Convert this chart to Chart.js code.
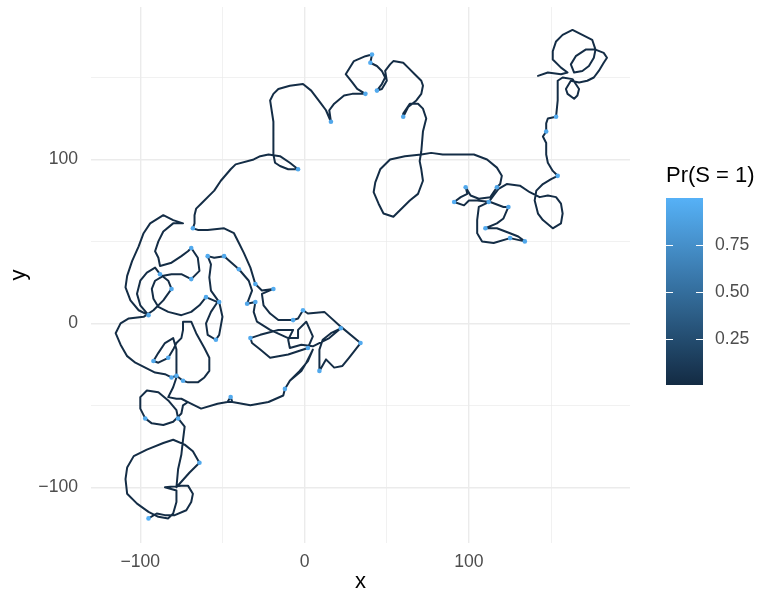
<!DOCTYPE html>
<html>
<head>
<meta charset="utf-8">
<script src="https://cdn.jsdelivr.net/npm/chart.js@4.4.1/dist/chart.umd.min.js"></script>
<style>
  html, body { margin: 0; padding: 0; background: #fff; }
  #wrap { width: 761px; height: 598px; }
</style>
</head>
<body>
<div id="wrap"><canvas id="chart" width="761" height="598"></canvas></div>
<script>
// path, in order: [x, y, Pr(S = 1)]
const topRight = [
  [142,151,.003],[148,153,.02],[156,152,.02],[160,153,.02],[156,156,.02],[151,161,.02],[151,166,.02],[153,172,.02],[157,176,.02],[163,179,.02],
  [169,176,.02],[175,173,.02],[177,167,.02],[176,162,.02],[173,157,.02],[169,154,.02],[164,153,.02],[162,158,.02],[165,163,.02],[171,167,.02],
  [177,167,.02],[182,165,.02],[184,162,.02],[182,159,.02],[179,154,.02],[176,150,.02],[172,148,.02],[167,147,.02],[162,148,.02],[159,143,.02],
  [160,140,.02],[164,137,.02],[166,139,.02],[167,143,.02],[165,146,.02],[163,149,.02],[157,150,.02],[154,148,.02],[154,143,.02],[154,136,.02],
  [153,126,.95],[148,125,.02],[147,122,.02],[147,117,.93],[145,114,.02],[147,110,.02],[147,103,.02],[148,98,.02],[151,93,.02],[154,90,.96],
  [150,88,.02],[145,85,.02],[141,81,.02],[140,75,.02],[142,67,.02],[145,63,.02],[151,58,.02],[156,61,.02],[157,67,.02],[156,73,.02],
  [153,77,.02],[148,78,.02],[143,77,.02],[137,80,.02],[131,84,.02],[123,85,.02],[118,82,.02],[115,78,.02],[112,74,.94]
];
const rightLoops = [
  [106,71,.02],[105,63,.02],[105,55,.02],[108,50,.02],[115,49,.02],[125,52,.96],[134,50,.93],[130,53,.02],[125,55,.02],[117,58,.02],
  [110,58,.95],[117,61,.02],[121,64,.02],[124,71,.92],[121,71,.02],[113,74,.02],[105,75,.02],[100,75,.02],[97,72,.02],[91,74,.97],
  [95,77,.02],[99,79,.02],[98,83,.94],[101,78,.02],[106,76,.02],[113,77,.02],[117,83,.91],[119,85,.02],[120,90,.02],[117,95,.02],
  [111,100,.02],[103,103,.02],[95,103,.02],[84,103,.02],[77,104,.02],[71,103,.02],[61,102,.02],[52,100,.02],[46,94,.02],[43,86,.02],
  [42,80,.02],[45,73,.02],[48,67,.02],[54,65,.02],[58,69,.02],[64,75,.02],[69,79,.02],[72,87,.02],[71,94,.02],[70,99,.02],
  [71,105,.02],[72,117,.02],[74,125,.02],[72,131,.02],[69,134,.02],[64,134,.02],[60,128,.02],[60,126,.93],[63,132,.02],[68,136,.02],
  [71,140,.02],[72,145,.02],[71,148,.02],[67,152,.02],[63,156,.02],[60,159,.02],[54,160,.02],[52,158,.02],[49,154,.02],[50,148,.02],
  [47,143,.02],[44,142,.95],[47,146,.02],[49,150,.02],[47,154,.02],[44,157,.02],[40,159,.97],[41,164,.96],[37,163,.02],[30,160,.02],
  [25,152,.02],[29,147,.02],[32,143,.02],[37,140,.94],[29,140,.02],[24,139,.02],[18,134,.02],[15,130,.02],[16,123,.92],[13,130,.02],
  [10,134,.02],[4,142,.02],[-1,146,.02],[-9,145,.02],[-16,143,.02],[-19,140,.02],[-21,136,.02],[-19,123,.02],[-19,111,.02],[-19,103,.02],
  [-18,98,.02],[-15,96,.02],[-10,94,.02],[-4,94,.93],[-9,98,.02],[-15,102,.02],[-22,103,.02],[-27,102,.02],[-31,100,.02],[-42,97,.02],
  [-45,94,.02],[-51,87,.02],[-55,81,.02],[-63,73,.02],[-66,70,.02],[-67,66,.02]
];
const leftTop = [
  [-67,61,.02],[-68,58,.95],[-65,57,.02],[-59,57,.02],[-49,58,.02],[-43,55,.02],[-40,49,.02],[-37,43,.02],[-33,34,.02],[-30,24,.94],
  [-26,20,.02],[-19,21,.96],[-26,18,.02],[-25,11,.02],[-21,6,.02],[-16,2,.02],[-7,2,.93]
];
const midCluster = [
  [-4,3,.02],[-1,8,.97],[2,6,.02],[12,7,.02],[22,-2,.02],[34,-12,.95],[27,-21,.02],[23,-26,.02],[18,-27,.02],[13,-22,.02],
  [9,-29,.94],[9,-16,.02],[11,-10,.02],[16,-6,.02],[22,-3,.96],[15,-9,.02],[5,-14,.02],[-2,-13,.02],[-9,-15,.02],[-10,-10,.02],
  [-7,-4,.02],[-16,-4,.02],[-27,-7,.02],[-33,-9,.95],[-32,-12,.02],[-27,-16,.02],[-21,-21,.02],[-10,-19,.02],[2,-15,.93],[5,-8,.02],
  [1,1,.02],[-4,-4,.02],[-4,-9,.02]
];
const leftCluster = [
  [-10,-9,.02],[-21,-4,.02],[-29,1,.02],[-31,7,.02],[-30,13,.94],[-35,12,.92],[-32,20,.02],[-34,26,.02],[-40,33,.95],[-49,41,.93],
  [-55,40,.02],[-59,41,.96],[-57,36,.02],[-58,28,.02],[-57,20,.02],[-52,13,.94],
  [-50,4,.02],[-52,-7,.02],[-54,-10,.95],[-59,-7,.02],[-60,0,.02],[-57,7,.02],[-53,13,.02],[-60,16,.93],
  [-64,11,.02],[-69,7,.02],[-75,5,.02],[-83,7,.02],[-89,10,.02],[-92,15,.02],[-93,21,.02],[-91,26,.02],[-86,29,.02],[-81,30,.02],
  [-75,30,.02],[-69,27,.94],[-64,32,.02],[-65,40,.02],[-69,46,.95],
  [-71,44,.02],[-75,41,.02],[-81,37,.02],[-88,35,.02],[-89,40,.02],[-91,44,.02],[-89,50,.02],[-86,56,.02],[-80,61,.02],[-74,61,.02],
  [-80,63,.02],[-86,66,.02],[-94,61,.02],[-98,55,.02],[-101,47,.02],[-105,38,.02],[-108,29,.02],[-109,22,.02],[-106,14,.02],[-101,8,.02],
  [-95,5,.93],
  [-100,11,.02],[-102,18,.02],[-100,26,.02],[-96,31,.02],[-91,34,.02],[-88,30,.95],[-83,26,.02],[-81,21,.94],[-86,14,.02],[-92,8,.02],
  [-98,4,.02],
  [-107,3,.02],[-112,0,.02],[-115,-6,.02],[-112,-13,.02],[-108,-20,.02],[-103,-24,.02],[-97,-27,.02],[-91,-30,.02],[-85,-31,.02],
  [-81,-33,.95],[-78,-32,.96],[-74,-35,.94],[-71,-36,.02],[-65,-36,.02],[-61,-33,.02],[-58,-29,.02],[-58,-21,.02],[-61,-15,.02],
  [-66,-6,.02],[-69,1,.02],[-74,1,.02],
  [-74,-4,.02],[-75,-9,.02],[-78,-12,.02],[-80,-16,.02],[-83,-21,.95],[-89,-24,.02],[-92,-23,.93],[-89,-18,.02],[-85,-12,.02],[-80,-9,.02],
  [-78,-16,.02],[-78,-26,.02],[-78,-33,.02],[-80,-39,.02],[-83,-45,.02],[-78,-46,.02],[-75,-46,.02]
];
const lowerRun = [
  [-71,-48,.02],[-63,-52,.02],[-53,-49,.02],[-47,-48,.02],[-45,-45,.95],[-44,-48,.02],[-33,-50,.02],[-22,-48,.02],[-13,-44,.02],[-12,-40,.94],
  [-9,-35,.02],[-2,-29,.02],[1,-24,.02],[5,-16,.02],[2,-23,.02],[-3,-29,.02],
  [-9,-35,.02],[-12,-40,.02],[-13,-44,.02],[-22,-48,.02],[-33,-50,.02],[-44,-48,.02],[-47,-48,.02],[-53,-49,.02],[-63,-52,.02],[-71,-48,.02]
];
const bottomRun = [
  [-74,-50,.02],[-75,-55,.02],[-80,-60,.02],[-86,-62,.02],[-93,-61,.02],[-97,-58,.94],[-100,-52,.02],[-100,-45,.02],[-96,-41,.02],[-89,-42,.02],
  [-83,-47,.02],[-78,-53,.02],[-77,-58,.95],
  [-73,-63,.02],[-74,-71,.02],[-75,-80,.02],[-77,-89,.02],[-78,-100,.02],[-70,-91,.02],[-64,-85,.93],[-68,-78,.02],[-73,-74,.02],[-80,-71,.02],
  [-86,-73,.02],[-96,-77,.02],[-104,-81,.02],[-108,-88,.02],[-109,-95,.02],[-108,-104,.02],[-102,-110,.02],[-95,-115,.02],[-89,-118,.02],[-83,-119,.02],
  [-80,-116,.02],[-78,-109,.02],[-78,-102,.02],[-85,-100,.02],[-75,-99,.02],[-71,-99,.02],[-68,-104,.02],[-69,-109,.02],[-72,-114,.02],[-79,-117,.02],
  [-85,-117,.02],[-90,-116,.02],[-95,-119,.999]
];

const xTicks = [-100, -50, 0, 50, 100, 150];
const yTicks = [-100, -50, 0, 50, 100, 150];
const legendBreaks = [0.25, 0.5, 0.75];
const legendLabels = ["0.25", "0.50", "0.75"];

const path = [topRight, rightLoops, leftTop, midCluster, leftCluster, lowerRun, bottomRun]
  .flat()
  .map(([x, y, p]) => ({ x, y, p }));
const probs = path.map(d => d.p);
const pMin = Math.min(...probs);
const pMax = Math.max(...probs);

const lowCol = [19, 43, 67];
const highCol = [86, 177, 247];
function probColor(p) {
  const t = Math.max(0, Math.min(1, (p - pMin) / (pMax - pMin)));
  const c = lowCol.map((v, i) => Math.round(v + (highCol[i] - v) * t));
  return "rgb(" + c[0] + "," + c[1] + "," + c[2] + ")";
}

const fmt = v => (v < 0 ? "\u2212" + Math.abs(v) : String(v));
const FONT = '"Liberation Sans", Arial, sans-serif';
const TICK_SIZE = 17.6;
const TITLE_SIZE = 22;

// continuous colour bar on the right
const colorbar = {
  id: "colorbar",
  afterDraw(chart) {
    const ctx = chart.ctx;
    const left = 666, top = 198, w = 37, h = 187;
    ctx.save();
    ctx.fillStyle = "#000";
    ctx.font = TITLE_SIZE + "px " + FONT;
    ctx.textBaseline = "middle";
    ctx.textAlign = "left";
    ctx.fillText("Pr(S = 1)", left, 176);

    const g = ctx.createLinearGradient(0, top, 0, top + h);
    for (let i = 0; i <= 10; i++) {
      g.addColorStop(i / 10, probColor(pMax - (pMax - pMin) * i / 10));
    }
    ctx.fillStyle = g;
    ctx.fillRect(left, top, w, h);

    ctx.strokeStyle = "#fff";
    ctx.lineWidth = 1;
    ctx.fillStyle = "#4D4D4D";
    ctx.font = TICK_SIZE + "px " + FONT;
    legendBreaks.forEach((b, i) => {
      const y = Math.round(top + (pMax - b) / (pMax - pMin) * h) + 0.5;
      ctx.beginPath();
      ctx.moveTo(left, y); ctx.lineTo(left + 7, y);
      ctx.moveTo(left + w - 7, y); ctx.lineTo(left + w, y);
      ctx.stroke();
      ctx.fillText(legendLabels[i], left + w + 12, y);
    });
    ctx.restore();
  }
};

const gridStyle = {
  color: "#EBEBEB",
  lineWidth: c => (c.tick && c.tick.value % 100 === 0 ? 1.4 : 0.7),
  drawTicks: false
};

new Chart(document.getElementById("chart").getContext("2d"), {
  type: "scatter",
  data: {
    datasets: [{
      data: path,
      showLine: true,
      borderColor: probColor(0.02),
      borderWidth: 2,
      borderJoinStyle: "round",
      borderCapStyle: "round",
      pointRadius: c => (path[c.dataIndex] && path[c.dataIndex].p > 0.5 ? 2.3 : 0),
      pointBackgroundColor: c => probColor(path[c.dataIndex] ? path[c.dataIndex].p : pMin),
      pointBorderWidth: 0,
      pointHoverRadius: 0
    }]
  },
  options: {
    responsive: false,
    animation: false,
    devicePixelRatio: 1,
    events: [],
    layout: { padding: { top: 7, right: 131, left: 0, bottom: 0 } },
    plugins: { legend: { display: false }, tooltip: { enabled: false } },
    scales: {
      x: {
        type: "linear",
        min: -130,
        max: 198,
        afterBuildTicks: ax => { ax.ticks = xTicks.map(v => ({ value: v })); },
        afterFit: ax => { ax.height = 55; ax.paddingLeft = 0; ax.paddingRight = 0; },
        border: { display: false },
        grid: gridStyle,
        ticks: {
          color: "#4D4D4D",
          font: { family: FONT, size: TICK_SIZE },
          padding: 9,
          maxRotation: 0,
          autoSkip: false,
          callback: v => (v % 100 === 0 ? fmt(v) : "")
        },
        title: {
          display: true,
          text: "x",
          color: "#000",
          font: { family: FONT, size: TITLE_SIZE },
          padding: { top: 0, bottom: 3 }
        }
      },
      y: {
        type: "linear",
        min: -134,
        max: 193,
        afterBuildTicks: ax => { ax.ticks = yTicks.map(v => ({ value: v })); },
        afterFit: ax => { ax.width = 91; ax.paddingTop = 0; ax.paddingBottom = 0; },
        border: { display: false },
        grid: gridStyle,
        ticks: {
          color: "#4D4D4D",
          font: { family: FONT, size: TICK_SIZE },
          padding: 13,
          autoSkip: false,
          callback: v => (v % 100 === 0 ? fmt(v) : "")
        },
        title: {
          display: true,
          text: "y",
          color: "#000",
          font: { family: FONT, size: TITLE_SIZE },
          padding: { top: 6, bottom: 0 }
        }
      }
    }
  },
  plugins: [colorbar]
});
</script>
</body>
</html>
